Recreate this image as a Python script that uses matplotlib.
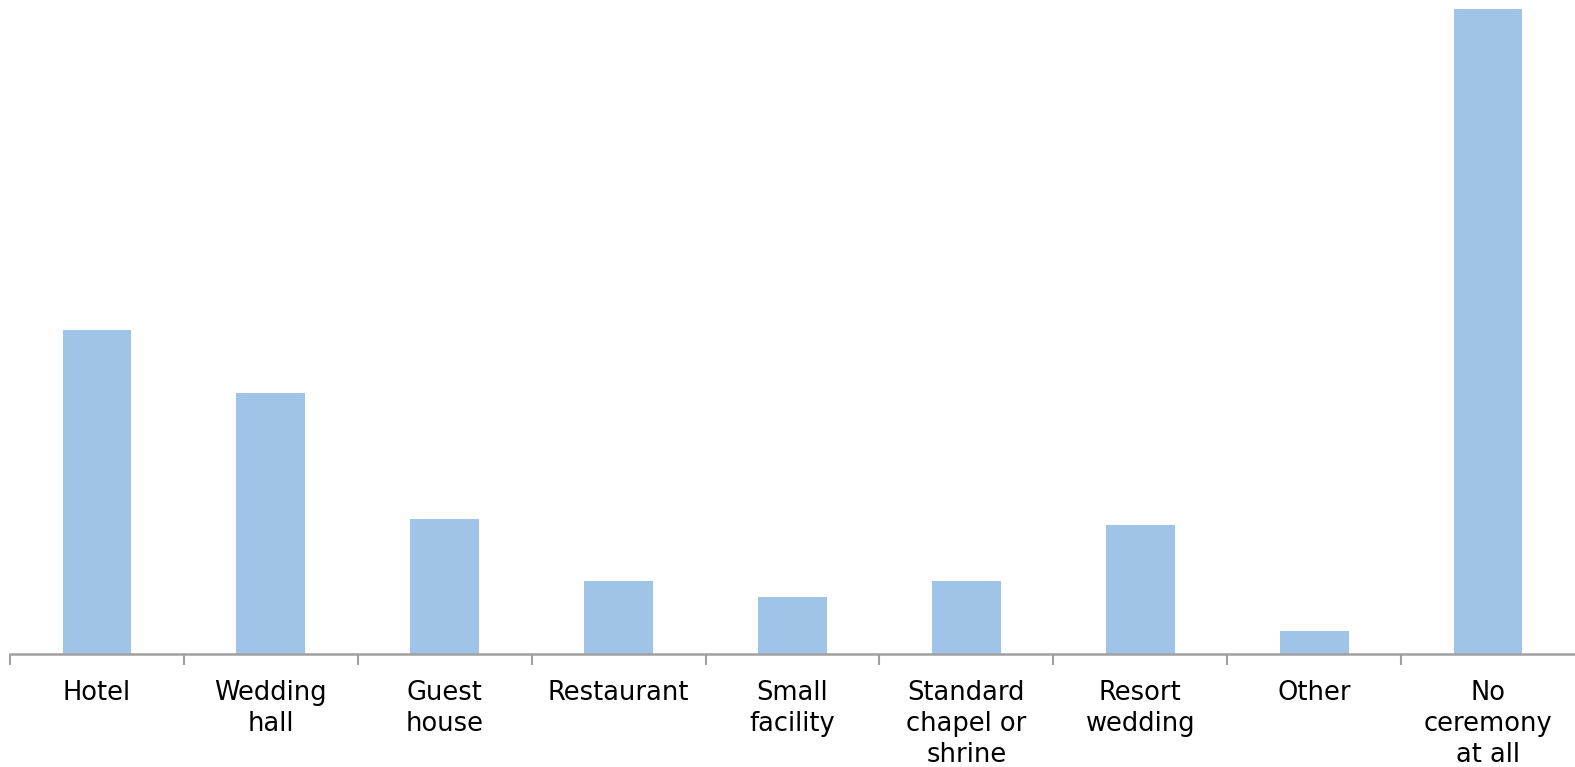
import matplotlib
matplotlib.use("Agg")
import matplotlib.pyplot as plt
import numpy as np

categories = ["Hotel", "Wedding\nhall", "Guest\nhouse", "Restaurant", "Small\nfacility",
              "Standard\nchapel or\nshrine", "Resort\nwedding", "Other", "No\nceremony\nat all"]
values = [22.1, 17.8, 9.2, 5.0, 3.9, 5.0, 8.8, 1.6, 44.0]

fig = plt.figure(figsize=(15.75, 7.67), dpi=100)
ax = fig.add_axes([10/1575, (767-654)/767, 1 - 10/1575, (654-9)/767])

x = np.arange(len(categories))
ax.bar(x, values, width=0.395, color="#A0C4E8", edgecolor="none")
ax.set_xlim(-0.5, len(categories) - 0.5)
ax.set_ylim(0, max(values))

for s in ["top", "right", "left"]:
    ax.spines[s].set_visible(False)
ax.spines["bottom"].set_color("#A0A0A0")
ax.spines["bottom"].set_linewidth(1.8)
ax.set_yticks([])

ax.set_xticks(np.arange(-0.5, len(categories) - 1, 1.0))
ax.set_xticklabels([])
ax.tick_params(axis="x", which="major", length=8, width=1.5, color="#A0A0A0", direction="out")
ax.set_xticks(x, minor=True)
ax.set_xticklabels(categories, minor=True, fontsize=18.5, family="DejaVu Sans",
                   linespacing=1.26, va="top")
ax.tick_params(axis="x", which="minor", length=0, pad=18.5)

fig.savefig("out.png", dpi=100)
